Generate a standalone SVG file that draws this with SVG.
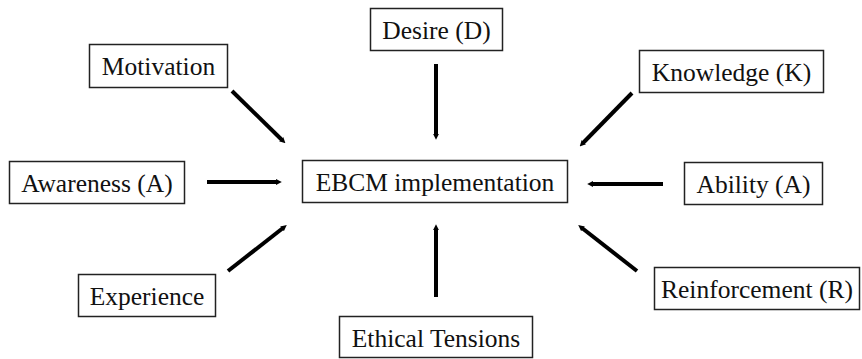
<svg xmlns="http://www.w3.org/2000/svg" width="862" height="359" viewBox="0 0 862 359">
<style>
.box rect{fill:#fff;stroke:#222;stroke-width:1.5}
.box text{font-family:'Liberation Serif','Times New Roman',serif;font-size:25.5px;fill:#111;text-anchor:middle;dominant-baseline:central}
.conn line{stroke:#000;stroke-width:4;marker-end:url(#ah)}
</style>
<defs>
<marker id="ah" viewBox="0 0 10 10" refX="2" refY="5" markerWidth="1.5" markerHeight="1.6" orient="auto" markerUnits="strokeWidth">
<path d="M0,0 L10,5 L0,10 z" fill="#000"/>
</marker>
</defs>
<rect width="862" height="359" fill="#fff"/>
<g id="motivation" class="box"><rect x="89.5" y="44.5" width="138" height="43"/><text x="158.5" y="66">Motivation</text></g>
<g id="desire" class="box"><rect x="370.5" y="8.5" width="132" height="42"/><text x="436.5" y="30">Desire (D)</text></g>
<g id="knowledge" class="box"><rect x="639.5" y="50.5" width="184" height="42"/><text x="731.5" y="72">Knowledge (K)</text></g>
<g id="awareness" class="box"><rect x="9.5" y="161.5" width="175" height="42"/><text x="97" y="183">Awareness (A)</text></g>
<g id="ebcm" class="box"><rect x="302.5" y="160.5" width="265" height="42"/><text x="435" y="182">EBCM implementation</text></g>
<g id="ability" class="box"><rect x="684.5" y="162.5" width="138" height="42"/><text x="753.5" y="184">Ability (A)</text></g>
<g id="experience" class="box"><rect x="78.5" y="274.5" width="137" height="42"/><text x="147" y="296">Experience</text></g>
<g id="ethical" class="box"><rect x="339.5" y="316.5" width="193" height="41"/><text x="436" y="338">Ethical Tensions</text></g>
<g id="reinforcement" class="box"><rect x="654.5" y="267.5" width="205" height="42"/><text x="757" y="289">Reinforcement (R)</text></g>
<g id="connectors" class="conn">
<line x1="232" y1="91" x2="282" y2="140"/>
<line x1="436" y1="64" x2="436" y2="135"/>
<line x1="632" y1="93" x2="583" y2="143"/>
<line x1="207" y1="182" x2="277" y2="182"/>
<line x1="663" y1="184" x2="592" y2="184"/>
<line x1="228" y1="271" x2="283" y2="228"/>
<line x1="436" y1="297" x2="436" y2="229"/>
<line x1="637" y1="271" x2="582" y2="228"/>
</g>
</svg>
